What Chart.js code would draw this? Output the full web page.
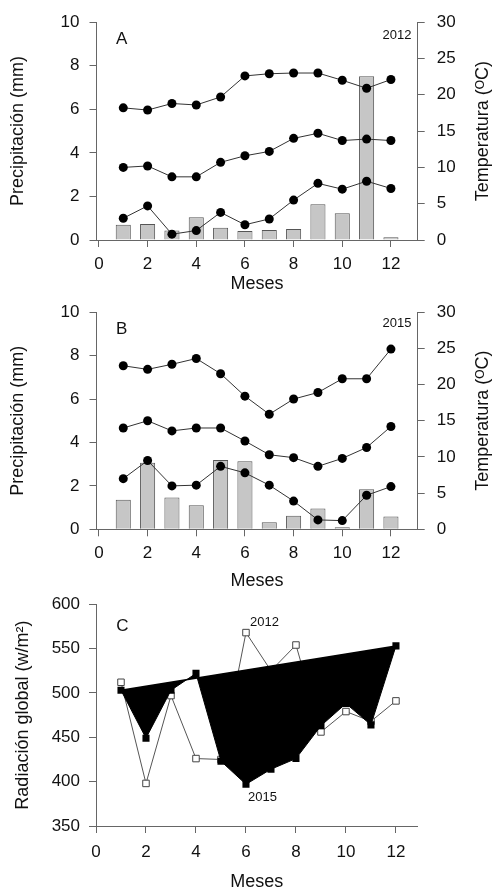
<!DOCTYPE html>
<html>
<head>
<meta charset="utf-8">
<script src="https://cdn.jsdelivr.net/npm/chart.js@4.4.1/dist/chart.umd.min.js"></script>
<style>
  body { margin: 0; background: #fff; width: 492px; height: 891px; position: relative; overflow: hidden; }
  canvas { position: absolute; left: 0; }
</style>
</head>
<body>
<canvas id="chartA" width="492" height="300" style="top:0px"></canvas>
<canvas id="chartB" width="492" height="305" style="top:290px"></canvas>
<canvas id="chartC" width="492" height="310" style="top:585px"></canvas>
<script>
// meses y ticks
const months = [1, 2, 3, 4, 5, 6, 7, 8, 9, 10, 11, 12];
const xTicks = [0, 2, 4, 6, 8, 10, 12];
const precipTicks = [0, 1, 2, 3, 4, 5, 6, 7, 8, 9, 10];
const tempTicks = [0, 2.5, 5, 7.5, 10, 12.5, 15, 17.5, 20, 22.5, 25, 27.5, 30];
const radTicks = [350, 375, 400, 425, 450, 475, 500, 525, 550, 575, 600];

// 2012
const precip2012 = [0.70, 0.74, 0.44, 1.05, 0.56, 0.41, 0.46, 0.50, 1.64, 1.23, 7.52, 0.13];
const tmax2012 = [18.2, 17.9, 18.8, 18.6, 19.7, 22.6, 22.9, 23.0, 23.0, 22.0, 20.9, 22.1];
const tmed2012 = [10.0, 10.2, 8.7, 8.7, 10.7, 11.6, 12.2, 14.0, 14.7, 13.7, 13.9, 13.7];
const tmin2012 = [3.0, 4.7, 0.8, 1.3, 3.8, 2.1, 2.9, 5.5, 7.8, 7.0, 8.1, 7.1];

// 2015
const precip2015 = [1.36, 3.07, 1.47, 1.11, 3.19, 3.14, 0.33, 0.62, 0.96, 0.09, 1.85, 0.59];
const tmax2015 = [22.6, 22.1, 22.8, 23.6, 21.5, 18.4, 15.9, 18.0, 18.9, 20.8, 20.8, 24.9];
const tmed2015 = [14.0, 15.0, 13.6, 14.0, 14.0, 12.2, 10.3, 9.9, 8.7, 9.8, 11.3, 14.2];
const tmin2015 = [7.0, 9.5, 6.0, 6.1, 8.7, 7.8, 6.1, 3.9, 1.3, 1.2, 4.7, 5.9];

// radiacion global
const rad2012 = [512, 398, 497, 426, 425, 568, 525, 554, 456, 479, 468, 491];
const rad2015 = [503, 449, 503, 522, 423, 397, 414, 426, 463, 488, 464, 553];

Chart.defaults.font.family = '"Liberation Sans", Arial, sans-serif';
Chart.defaults.color = '#111';

const axisGray = '#666';
const pts = (ys) => months.map((m, i) => ({ x: m, y: ys[i] }));

// texto libre en coordenadas de datos + titulo derecho girado
const notesPlugin = {
  id: 'notes',
  afterDraw(chart, args, opts) {
    const ctx = chart.ctx;
    ctx.save();
    ctx.fillStyle = '#111';
    ctx.textBaseline = 'middle';
    (opts.items || []).forEach(it => {
      ctx.font = it.font;
      ctx.textAlign = it.align || 'left';
      ctx.fillText(it.text, chart.scales.x.getPixelForValue(it.x), chart.scales[it.axis || 'y'].getPixelForValue(it.y));
    });
    if (opts.rightTitle) {
      const s = chart.scales.y2;
      ctx.translate(s.right - opts.rightTitle.offset, (s.top + s.bottom) / 2);
      ctx.rotate(-Math.PI / 2);
      ctx.textAlign = 'center';
      ctx.font = '18px "Liberation Sans", Arial, sans-serif';
      ctx.fillText(opts.rightTitle.text, 0, 0);
    }
    ctx.restore();
  }
};

function gridOpts() {
  return { drawOnChartArea: false, drawTicks: true, tickLength: 7, color: axisGray, tickColor: axisGray, offset: false };
}

function climateChart(id, year, precip, tmax, tmed, tmin, top, axisH, titlePad, label) {
  const lineDs = (ys) => ({
    type: 'line', data: pts(ys), yAxisID: 'y2', order: 1,
    borderColor: '#333', borderWidth: 1,
    pointRadius: 4.5, pointBackgroundColor: '#000', pointBorderColor: '#000', pointBorderWidth: 0
  });
  return new Chart(document.getElementById(id), {
    type: 'bar',
    data: {
      datasets: [
        {
          type: 'bar', data: pts(precip), yAxisID: 'y', order: 2,
          backgroundColor: '#c6c6c6', borderColor: '#555', borderWidth: 1,
          categoryPercentage: 1, barPercentage: 0.62
        },
        lineDs(tmax), lineDs(tmed), lineDs(tmin)
      ]
    },
    options: {
      responsive: false,
      animation: false,
      layout: { padding: { top: top, left: 0, right: 0, bottom: 0 } },
      plugins: {
        legend: { display: false },
        tooltip: { enabled: false },
        notes: {
          items: [
            { text: label, x: 0.7, y: year === '2012' ? 9.2 : 9.23, font: '17px "Liberation Sans", Arial, sans-serif' },
            { text: year, x: 12.84, y: year === '2012' ? 9.38 : 9.49, align: 'right', font: '13px "Liberation Sans", Arial, sans-serif' }
          ],
          rightTitle: { text: 'Temperatura (ᴼC)', offset: 9 }
        }
      },
      scales: {
        x: {
          type: 'linear', min: -0.1, max: 13.1, offset: false,
          afterBuildTicks: s => { s.ticks = xTicks.map(v => ({ value: v })); },
          afterFit: s => { s.height = axisH; },
          ticks: { padding: 7, font: { size: 17 } },
          grid: gridOpts(),
          border: { color: axisGray },
          title: { display: true, text: 'Meses', font: { size: 18 }, padding: { top: 0, bottom: titlePad } }
        },
        y: {
          type: 'linear', position: 'left', min: 0, max: 10,
          afterBuildTicks: s => { s.ticks = precipTicks.map(v => ({ value: v })); },
          afterFit: s => { s.width = 96.5; },
          ticks: { padding: 10, font: { size: 17 }, callback: v => (v % 2 === 0 ? v : '') },
          grid: gridOpts(),
          border: { color: axisGray },
          title: { display: true, text: 'Precipitación (mm)', font: { size: 18 }, padding: { top: 7, bottom: 0 } }
        },
        y2: {
          type: 'linear', position: 'right', min: 0, max: 30,
          afterBuildTicks: s => { s.ticks = tempTicks.map(v => ({ value: v })); },
          afterFit: s => { s.width = 74.3; },
          ticks: { padding: 12, font: { size: 17 }, callback: v => (v % 5 === 0 ? v : '') },
          grid: gridOpts(),
          border: { color: axisGray }
        }
      }
    },
    plugins: [notesPlugin]
  });
}

climateChart('chartA', '2012', precip2012, tmax2012, tmed2012, tmin2012, 15, 60, 5, 'A');
climateChart('chartB', '2015', precip2015, tmax2015, tmed2015, tmin2015, 14.3, 65.7, 3, 'B');

// panel C: la serie 2015 se rellena hasta la recta que une su primer y ultimo punto
const closing2015 = [
  { x: months[0], y: rad2015[0] },
  { x: months[months.length - 1], y: rad2015[rad2015.length - 1] }
];

new Chart(document.getElementById('chartC'), {
  type: 'line',
  data: {
    datasets: [
      {
        data: pts(rad2015), fill: '+1', backgroundColor: '#000',
        borderColor: '#000', borderWidth: 1,
        pointStyle: 'rect', pointRadius: 5, pointBackgroundColor: '#000', pointBorderColor: '#000', pointBorderWidth: 0
      },
      {
        data: closing2015, borderColor: '#000', borderWidth: 1.5, pointRadius: 0, fill: false
      },
      {
        data: pts(rad2012), fill: false, borderColor: '#555', borderWidth: 1,
        pointStyle: 'rect', pointRadius: 4.6, pointBackgroundColor: '#fff', pointBorderColor: '#444', pointBorderWidth: 1
      }
    ]
  },
  options: {
    responsive: false,
    animation: false,
    layout: { padding: { top: 15.7, left: 0, right: 74.3, bottom: 0 } },
    plugins: {
      legend: { display: false },
      tooltip: { enabled: false },
      notes: {
        items: [
          { text: 'C', x: 1.06, y: 575.3, align: 'center', font: '17px "Liberation Sans", Arial, sans-serif' },
          { text: '2012', x: 6.16, y: 579.7, font: '13px "Liberation Sans", Arial, sans-serif' },
          { text: '2015', x: 6.08, y: 382, font: '13px "Liberation Sans", Arial, sans-serif' }
        ]
      }
    },
    scales: {
      x: {
        type: 'linear', min: 0, max: 12.87, offset: false,
        afterBuildTicks: s => { s.ticks = xTicks.map(v => ({ value: v })); },
        afterFit: s => { s.height = 69; },
        ticks: { padding: 9, font: { size: 17 } },
        grid: gridOpts(),
        border: { color: axisGray },
        title: { display: true, text: 'Meses', font: { size: 18 }, padding: { top: 0, bottom: 2 } }
      },
      y: {
        type: 'linear', position: 'left', min: 350, max: 600,
        afterBuildTicks: s => { s.ticks = radTicks.map(v => ({ value: v })); },
        afterFit: s => { s.width = 96; },
        ticks: { padding: 9, font: { size: 17 }, callback: v => (v % 50 === 0 ? v : '') },
        grid: gridOpts(),
        border: { color: axisGray },
        title: { display: true, text: 'Radiación global (w/m²)', font: { size: 18 }, padding: { top: 12, bottom: 0 } }
      }
    }
  },
  plugins: [notesPlugin]
});
</script>
</body>
</html>
